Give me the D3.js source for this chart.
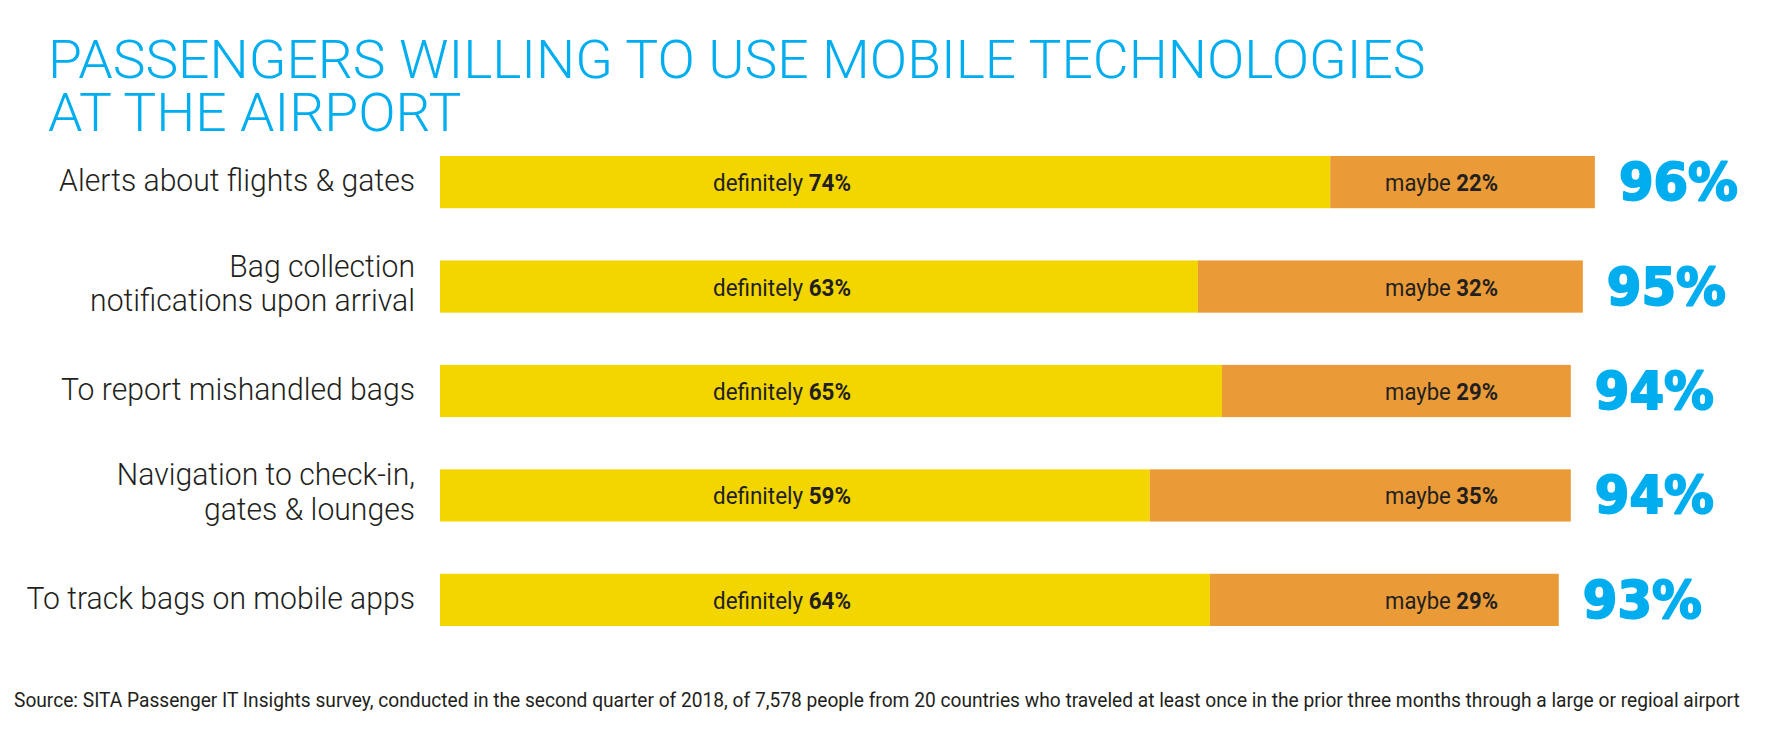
<!DOCTYPE html>
<html>
<head>
<meta charset="utf-8">
<script src="https://cdn.jsdelivr.net/npm/d3@7"></script>
<style>
  html, body { margin: 0; padding: 0; background: #ffffff; }
  svg { display: block; }
</style>
</head>
<body>
<svg id="chart" width="1784" height="733"></svg>
<script>
// ---------- DATA ----------
const titleLines = ["PASSENGERS WILLING TO USE MOBILE TECHNOLOGIES", "AT THE AIRPORT"];
const categories = [
  ["Alerts about flights & gates"],
  ["Bag collection", "notifications upon arrival"],
  ["To report mishandled bags"],
  ["Navigation to check-in,", "gates & lounges"],
  ["To track bags on mobile apps"]
];
const definitely = [74, 63, 65, 59, 64];
const maybe = [22, 32, 29, 35, 29];
const totals = [96, 95, 94, 94, 93];
const seriesNames = ["definitely", "maybe"];
const sourceText = "Source: SITA Passenger IT Insights survey, conducted in the second quarter of 2018, of 7,578 people from 20 countries who traveled at least once in the prior three months through a large or regioal airport";

// ---------- STYLE ----------
const BLUE = "#00aeef", YELLOW = "#f3d500", ORANGE = "#ea9b37", INK = "#231f20";
const svg = d3.select("#chart");

const x = d3.scaleLinear().domain([0, 100]).range([440, 1643]);
const y = d3.scaleBand().domain(d3.range(categories.length)).range([156, 626]).paddingInner(0.5).paddingOuter(0);
const bh = y.bandwidth();

// condense helper: scale text horizontally so a reference string hits a target width
function condense(sel, refWidth, targetWidth) {
  const f = targetWidth / refWidth;
  sel.each(function () {
    const t = d3.select(this);
    const tx = +t.attr("data-x"), ty = +t.attr("data-y");
    t.attr("transform", `translate(${tx},${ty}) scale(${f},1)`);
  });
}
function place(t, px, py) { return t.attr("data-x", px).attr("data-y", py).attr("x", 0).attr("y", 0); }

// ---------- TITLE (one text, two lines) ----------
const title = svg.append("text")
  .call(t => place(t, 48, 78))
  .attr("font-family", "Roboto, 'Open Sans', sans-serif")
  .attr("font-weight", 300)
  .attr("font-size", 53.5)
  .attr("fill", BLUE);
title.selectAll("tspan").data(titleLines).join("tspan")
  .attr("x", 0)
  .attr("dy", (d, i) => i === 0 ? 0 : 53)
  .text(d => d);
condense(title, title.select("tspan").node().getComputedTextLength(), 1378);

// ---------- BARS ----------
const stackData = categories.map((c, i) => ({ i, definitely: definitely[i], maybe: maybe[i] }));
const stacked = d3.stack().keys(seriesNames)(stackData);
const color = d3.scaleOrdinal().domain(seriesNames).range([YELLOW, ORANGE]);

svg.append("g").selectAll("g").data(stacked).join("g")
  .attr("fill", d => color(d.key))
  .selectAll("rect").data(d => d).join("rect")
  .attr("x", d => x(d[0]))
  .attr("y", d => y(d.data.i))
  .attr("width", d => x(d[1]) - x(d[0]))
  .attr("height", bh);

// ---------- IN-BAR LABELS ----------
const inFont = "Roboto, 'Open Sans', sans-serif";
const defSel = svg.append("g").selectAll("text").data(definitely).join("text")
  .each(function (d, i) { place(d3.select(this), 782, y(i) + bh / 2 + 9); })
  .attr("text-anchor", "middle")
  .attr("font-family", inFont).attr("font-size", 23).attr("fill", INK);
defSel.append("tspan").attr("font-weight", 400).text("definitely ");
defSel.append("tspan").attr("font-weight", 700).text(d => d + "%");
condense(defSel, defSel.node().getComputedTextLength(), 138);

const maySel = svg.append("g").selectAll("text").data(maybe).join("text")
  .each(function (d, i) { place(d3.select(this), 1441.5, y(i) + bh / 2 + 9); })
  .attr("text-anchor", "middle")
  .attr("font-family", inFont).attr("font-size", 23).attr("fill", INK);
maySel.append("tspan").attr("font-weight", 400).text("maybe ");
maySel.append("tspan").attr("font-weight", 700).text(d => d + "%");
condense(maySel, maySel.node().getComputedTextLength(), 113);

// ---------- CATEGORY LABELS ----------
const labelSel = svg.append("g");
categories.forEach((lines, i) => {
  const c = y(i) + bh / 2;
  lines.forEach((ln, j) => {
    const by = lines.length === 1 ? c + 9 : c - 10 + j * 34.5;
    place(labelSel.append("text"), 415, by)
      .attr("text-anchor", "end")
      .attr("font-family", "Roboto, 'Open Sans', sans-serif")
      .attr("font-weight", 300)
      .attr("font-size", 32)
      .attr("fill", INK)
      .text(ln);
  });
});
const labelTexts = labelSel.selectAll("text");
condense(labelTexts, labelTexts.node().getComputedTextLength(), 356);

// ---------- TOTALS ----------
const totSel = svg.append("g").selectAll("text").data(totals).join("text")
  .each(function (d, i) { place(d3.select(this), x(definitely[i] + maybe[i]) + 24, y(i) + bh / 2 + 18); })
  .attr("font-family", "'DejaVu Sans', sans-serif")
  .attr("font-weight", 700)
  .attr("font-size", 51)
  .attr("fill", BLUE)
  .attr("stroke", BLUE)
  .attr("stroke-width", 2)
  .attr("stroke-linejoin", "round")
  .text(d => d + "%");
condense(totSel, totSel.node().getComputedTextLength(), 119);

// ---------- SOURCE ----------
const srcSel = svg.append("text")
  .call(t => place(t, 14, 707))
  .attr("font-family", "Roboto, 'Open Sans', sans-serif")
  .attr("font-weight", 400)
  .attr("font-size", 20)
  .attr("fill", INK)
  .text(sourceText);
condense(srcSel, srcSel.node().getComputedTextLength(), 1727);
</script>
</body>
</html>
